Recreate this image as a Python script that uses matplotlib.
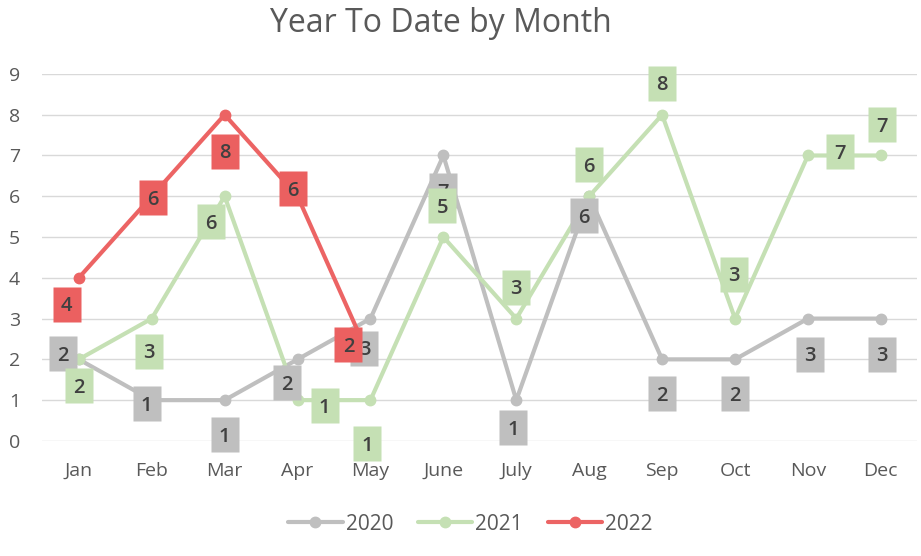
"""Year To Date by Month: line chart with boxed data labels."""

import matplotlib

matplotlib.use("Agg")
import matplotlib.pyplot as plt
from matplotlib.transforms import ScaledTranslation

months = ["Jan", "Feb", "Mar", "Apr", "May", "June", "July", "Aug", "Sep", "Oct", "Nov", "Dec"]
y2020 = [2, 1, 1, 2, 3, 7, 1, 6, 2, 2, 3, 3]
y2021 = [2, 3, 6, 1, 1, 5, 3, 6, 8, 3, 7, 7]
y2022 = [4, 6, 8, 6, 2]

# label offsets in pixels (dx, dy) from each point
off2020 = [(-16, 6), (-5, -3), (0, -34), (-11, -23), (-6, -29), (0, -35),
           (-3, -27), (-5, -19), (0, -34), (0, -34), (2, -35), (1, -35)]
off2021 = [(0, -26), (-3, -32), (-14, -25), (27, -5), (-3, -43), (-1, 32),
           (0, 32), (0, 32), (0, 32), (-1, 45), (32, 4), (1, 31)]
off2022 = [(-12, -26), (1, -1), (0, -36), (-5, 8), (-22, 15)]

series = [
    ("2020", y2020, off2020, "#BFBFBF", "#BFBFBF"),
    ("2021", y2021, off2021, "#C5E0B4", "#C5E0B4"),
    ("2022", y2022, off2022, "#EC6464", "#EB6060"),
]

plt.rcParams["font.family"] = ["Open Sans", "DejaVu Sans"]

fig = plt.figure(figsize=(9.21, 5.56), dpi=100)
ax = fig.add_axes([0.046, 0.207, 0.950, 0.660])

# label box: 28 x 35 px rectangle as a marker path
box = [(-0.4, -0.5), (0.4, -0.5), (0.4, 0.5), (-0.4, 0.5), (-0.4, -0.5)]

x = list(range(len(months)))
for i, (name, vals, offs, lc, bc) in enumerate(series):
    ax.plot(x[:len(vals)], vals, color=lc, lw=3.0, marker="o", ms=7.5,
            label=name, zorder=3 + i, solid_capstyle="round")

for i, (name, vals, offs, lc, bc) in enumerate(series):
    for xi, v, (dx, dy) in zip(x, vals, offs):
        tr = ax.transData + ScaledTranslation(dx / 100, dy / 100, fig.dpi_scale_trans)
        ax.plot([xi], [v], marker=box, ms=25.2, mfc=bc, mec="none",
                transform=tr, zorder=10 + 2 * i, clip_on=False)
        ax.text(xi, v, str(v), transform=tr, ha="center", va="center_baseline",
                fontsize=14.5, fontweight="semibold", color="#404040",
                zorder=11 + 2 * i)

ax.set_xlim(-0.5, len(months) - 0.5)
ax.set_ylim(0, 9)
ax.set_yticks(range(10))
ax.set_xticks(x)
ax.set_xticklabels(months)
ax.grid(axis="y", color="#D9D9D9", lw=1)
ax.set_axisbelow(True)
for s in ax.spines.values():
    s.set_visible(False)
ax.tick_params(length=0, colors="#595959", labelsize=14)
ax.tick_params(axis="x", pad=15)
ax.tick_params(axis="y", pad=16)

fig.text(0.479, 0.957, "Year To Date by Month", ha="center", va="center",
         fontsize=23, color="#595959")
fig.legend(loc="center", bbox_to_anchor=(0.511, 1 - 524 / 556), ncol=3, frameon=False,
           fontsize=15, labelcolor="#595959", handlelength=2.6, handletextpad=0.15,
           columnspacing=1.2)

fig.savefig("out.png", dpi=100)
